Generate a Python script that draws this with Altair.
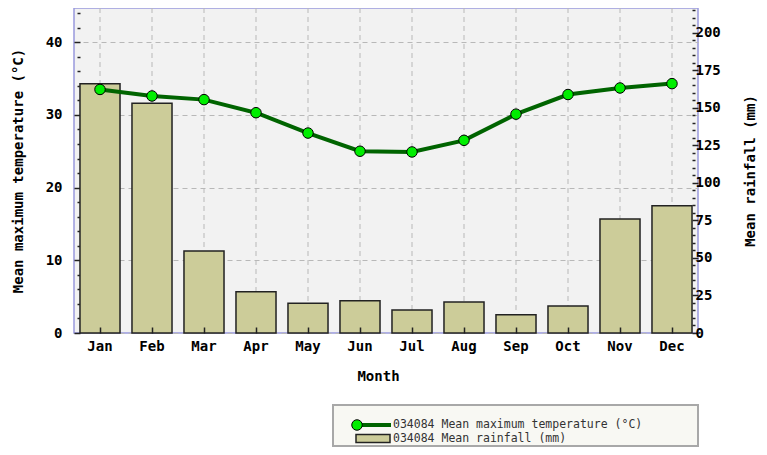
import altair as alt
import pandas as pd

months = ["Jan", "Feb", "Mar", "Apr", "May", "Jun", "Jul", "Aug", "Sep", "Oct", "Nov", "Dec"]
temp = [33.5, 32.6, 32.1, 30.3, 27.5, 25.0, 24.9, 26.5, 30.1, 32.8, 33.7, 34.3]
rain = [166.0, 153.0, 54.6, 27.5, 19.8, 21.5, 15.3, 20.6, 12.2, 18.0, 75.9, 84.8]
legend_labels = ["034084 Mean maximum temperature (°C)", "034084 Mean rainfall (mm)"]

df = pd.DataFrame({"month": months, "temp": temp, "rain": rain})

FONT = "DejaVu Sans Mono"
TEMP_MAX = 44.7
RAIN_MAX = 216.4

x_axis = alt.Axis(
    orient="bottom", domain=False, grid=False, offset=-6, tickSize=6,
    tickColor="#222222", tickWidth=1.5, labelAngle=0, labelPadding=6,
    labelFont=FONT, labelFontWeight="bold", labelFontSize=14, labelColor="#000000",
    titleFont=FONT, titleFontWeight="bold", titleFontSize=14, titleColor="#000000",
    titlePadding=16, titleX=304, zindex=1,
)
x_scale = alt.Scale(paddingInner=0.23, paddingOuter=0.115)
x_enc = alt.X("month:N", sort=months, title="Month", scale=x_scale, axis=x_axis)

grid_x = alt.Chart(df).mark_rule(color="#b8b8b8", strokeDash=[5, 4], strokeWidth=1).encode(x=x_enc)

major10 = "datum.value % 10 === 0"
major25 = "datum.value % 25 === 0"

temp_axis = alt.Axis(
    orient="left", domain=False, offset=-6,
    values=list(range(0, 45, 2)),
    labelExpr="datum.value % 10 === 0 ? datum.label : ''",
    tickSize={"condition": {"test": major10, "value": 6}, "value": 3},
    tickColor="#222222", tickWidth=1.5,
    grid=True, gridColor="#b8b8b8", gridDash=[5, 4],
    gridOpacity={"condition": {"test": major10, "value": 1}, "value": 0},
    labelPadding=12, labelFont=FONT, labelFontWeight="bold", labelFontSize=14, labelColor="#000000",
    title="Mean maximum temperature (°C)", titleFont=FONT, titleFontWeight="bold",
    titleFontSize=14, titleColor="#000000", titlePadding=20, zindex=0,
)

rain_axis = alt.Axis(
    orient="right", domain=False, offset=-6,
    values=list(range(0, 217, 5)),
    labelExpr="datum.value % 25 === 0 ? datum.label : ''",
    tickSize={"condition": {"test": major25, "value": 6}, "value": 3},
    tickColor="#222222", tickWidth=1.5, grid=False,
    labelPadding=-3, labelFont=FONT, labelFontWeight="bold", labelFontSize=14, labelColor="#000000",
    title="Mean rainfall (mm)", titleFont=FONT, titleFontWeight="bold",
    titleFontSize=14, titleColor="#000000", titlePadding=37, titleAngle=270, zindex=0,
)

bars = alt.Chart(df).mark_bar(fill="#cccc99", stroke="#222222", strokeWidth=1.5).encode(
    x=x_enc,
    y=alt.Y("rain:Q", scale=alt.Scale(domain=[0, RAIN_MAX], nice=False, zero=True), axis=rain_axis),
)

temp_y = alt.Y("temp:Q", scale=alt.Scale(domain=[0, TEMP_MAX], nice=False, zero=True), axis=temp_axis)
line = alt.Chart(df).mark_line(color="#006400", strokeWidth=4).encode(x=x_enc, y=temp_y)
pts = alt.Chart(df).mark_point(filled=True, fill="#00ee00", stroke="#000000", strokeWidth=1,
                               opacity=1, size=110, shape="circle").encode(x=x_enc, y=temp_y)
temp_layer = alt.layer(line, pts)

one = pd.DataFrame({"k": [0]})
leg_box = alt.Chart(one).mark_rect(fill="#f8f8f3", stroke="#a8a8a8", strokeWidth=2).encode(
    x=alt.value(259), x2=alt.value(624), y=alt.value(397), y2=alt.value(438))
leg_line = alt.Chart(one).mark_rule(color="#006400", strokeWidth=4).encode(
    x=alt.value(280), x2=alt.value(317), y=alt.value(417))
leg_pt = alt.Chart(one).mark_point(filled=True, fill="#00ee00", stroke="#000000", strokeWidth=1,
                                   opacity=1, size=110, shape="circle").encode(
    x=alt.value(283), y=alt.value(417))
leg_sw = alt.Chart(one).mark_rect(fill="#cccc99", stroke="#222222", strokeWidth=1.5).encode(
    x=alt.value(282), x2=alt.value(316), y=alt.value(426.5), y2=alt.value(434.5))
leg_t1 = alt.Chart(one).mark_text(align="left", baseline="middle", font=FONT, fontSize=11.5,
                                  color="#333333").encode(
    x=alt.value(319), y=alt.value(417), text=alt.value(legend_labels[0]))
leg_t2 = alt.Chart(one).mark_text(align="left", baseline="middle", font=FONT, fontSize=11.5,
                                  color="#333333").encode(
    x=alt.value(319), y=alt.value(430.5), text=alt.value(legend_labels[1]))

chart = alt.layer(
    grid_x, bars, temp_layer, leg_box, leg_line, leg_pt, leg_sw, leg_t1, leg_t2
).resolve_scale(y="independent").properties(
    width=624, height=325,
    autosize=alt.AutoSizeParams(type="none"),
    padding={"left": 66, "top": 0, "right": 61, "bottom": 114},
).configure_view(fill="#f2f2f2", stroke="#9999dd", strokeWidth=1.5)

chart.save("out.html", embed_options={"renderer": "svg", "actions": False})
